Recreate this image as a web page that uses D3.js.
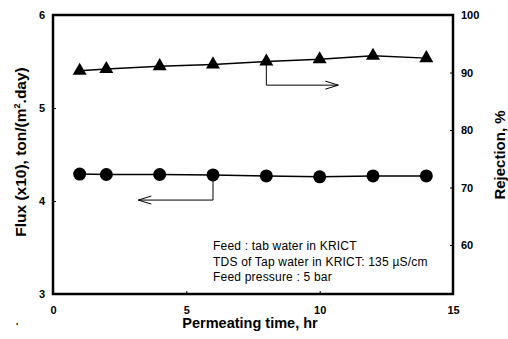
<!DOCTYPE html>
<html>
<head>
<meta charset="utf-8">
<script src="https://cdn.jsdelivr.net/npm/d3@7"></script>
<style>
body { margin: 0; background: #fff; }
text { font-family: "Liberation Sans", Arial, sans-serif; }
</style>
</head>
<body>
<svg width="508" height="339"></svg>
<script>
// data
var hours = [1, 2, 4, 6, 8, 10, 12, 14];
var flux = [4.29, 4.285, 4.285, 4.28, 4.27, 4.26, 4.27, 4.27];
var rejection = [90.3, 90.6, 91.1, 91.4, 91.9, 92.3, 92.9, 92.5];

var xTicks = [0, 5, 10, 15];
var fluxTicks = [3, 4, 5, 6];
var rejTicks = [60, 70, 80, 90, 100];

var notes = ["Feed : tab water in KRICT",
    "TDS of Tap water in KRICT: 135 \u00b5S/cm",
    "Feed pressure : 5 bar"];

// arrow paths in data coords: [x, y] for each corner
var fluxArrow = [[6, 4.28], [6, 4.01], [3.2, 4.01]];
var rejArrow = [[8, 91.9], [8, 87.8], [10.7, 87.8]];

var svg = d3.select("svg");

var plotL = 53, plotR = 453, plotT = 15, plotB = 294;

var x = d3.scaleLinear().domain([0, 15]).range([plotL, plotR]);
var yL = d3.scaleLinear().domain([3, 6]).range([plotB, plotT]);
var yR = d3.scaleLinear().domain([60, 100]).range([245, plotT]);

// frame
svg.append("rect")
    .attr("x", plotL).attr("y", plotT)
    .attr("width", plotR - plotL).attr("height", plotB - plotT)
    .attr("fill", "none")
    .attr("stroke", "#000")
    .attr("stroke-width", 2.5);

var tickFont = function(sel) {
    sel.selectAll("text")
        .style("font-family", "'Liberation Sans', Arial, sans-serif")
        .style("font-size", "11px")
        .style("font-weight", "bold")
        .attr("fill", "#000");
    sel.select(".domain").remove();
    sel.selectAll("line").attr("stroke", "#000");
};

svg.append("g")
    .attr("transform", "translate(0," + plotB + ")")
    .call(d3.axisBottom(x).tickValues(xTicks).tickSize(-3).tickPadding(12).tickFormat(d3.format("d")))
    .call(tickFont);

svg.append("g")
    .attr("transform", "translate(" + plotL + ",0)")
    .call(d3.axisLeft(yL).tickValues(fluxTicks).tickSize(-3).tickPadding(8).tickFormat(d3.format("d")))
    .call(tickFont);

svg.append("g")
    .attr("transform", "translate(" + plotR + ",0)")
    .call(d3.axisRight(yR).tickValues(rejTicks).tickSize(-3).tickPadding(8).tickFormat(d3.format("d")))
    .call(tickFont);

// series lines
var fluxLine = d3.line()
    .x(function(d, i) { return x(hours[i]); })
    .y(function(d) { return yL(d); });
var rejLine = d3.line()
    .x(function(d, i) { return x(hours[i]); })
    .y(function(d) { return yR(d); });

svg.append("path")
    .datum(flux)
    .attr("d", fluxLine)
    .attr("fill", "none").attr("stroke", "#000").attr("stroke-width", 1.5);
svg.append("path")
    .datum(rejection)
    .attr("d", rejLine)
    .attr("fill", "none").attr("stroke", "#000").attr("stroke-width", 1.5);

svg.selectAll(".dot")
    .data(flux)
    .enter().append("circle")
    .attr("class", "dot")
    .attr("cx", function(d, i) { return x(hours[i]); })
    .attr("cy", function(d) { return yL(d); })
    .attr("r", 6.5)
    .attr("fill", "#000");

var tri = d3.symbol().type(d3.symbolTriangle).size(85);
svg.selectAll(".tri")
    .data(rejection)
    .enter().append("path")
    .attr("class", "tri")
    .attr("d", tri)
    .attr("transform", function(d, i) {
        return "translate(" + x(hours[i]) + "," + yR(d) + ")";
    })
    .attr("fill", "#000");

// arrows pointing to the axis each series belongs to
function drawArrow(pts, ys, dir) {
    var p = pts.map(function(d) { return [x(d[0]), ys(d[1])]; });
    svg.append("path")
        .attr("d", d3.line()(p))
        .attr("fill", "none").attr("stroke", "#000").attr("stroke-width", 1);
    var end = p[p.length - 1];
    svg.append("path")
        .attr("d", d3.line()([[end[0] - dir * 13, end[1] - 4], end, [end[0] - dir * 13, end[1] + 4]]))
        .attr("fill", "none").attr("stroke", "#000").attr("stroke-width", 1);
}
drawArrow(fluxArrow, yL, -1);
drawArrow(rejArrow, yR, 1);

// notes
svg.selectAll(".note")
    .data(notes)
    .enter().append("text")
    .attr("class", "note")
    .attr("x", 213)
    .attr("y", function(d, i) { return 250 + i * 15.5; })
    .style("font-size", "12px")
    .style("letter-spacing", "0.2px")
    .text(function(d) { return d; });

// axis titles
svg.append("text")
    .attr("transform", "translate(26,152) rotate(-90)")
    .attr("text-anchor", "middle")
    .style("font-size", "15.5px").style("font-weight", "bold")
    .html("Flux (x10), ton/(m<tspan dy='-6' font-size='9px'>2</tspan><tspan dy='6'>.day)</tspan>");

svg.append("text")
    .attr("transform", "translate(505,155) rotate(-90)")
    .attr("text-anchor", "middle")
    .style("font-size", "15px").style("font-weight", "bold")
    .text("Rejection, %");

svg.append("text")
    .attr("x", 250).attr("y", 328)
    .attr("text-anchor", "middle")
    .style("font-size", "14.5px").style("font-weight", "bold")
    .text("Permeating time, hr");

// small speck in the scan
svg.append("text")
    .attr("x", 16).attr("y", 329)
    .style("font-size", "9px").style("font-weight", "bold")
    .text("'");
</script>
</body>
</html>
